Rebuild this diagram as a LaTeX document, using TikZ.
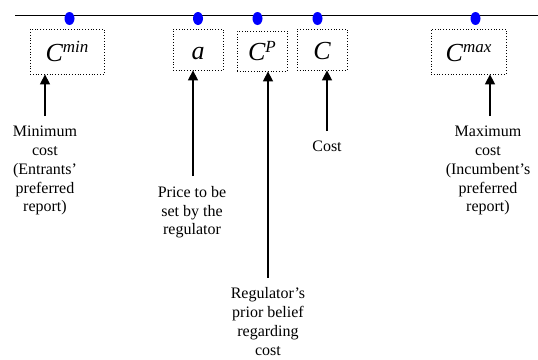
\documentclass[tikz,border=0pt]{standalone}
\usepackage{fontspec}
\setmainfont{Liberation Serif}
\usetikzlibrary{arrows.meta}
\newcommand\supx[1]{\raisebox{0.31em}{\fontsize{17}{17}\selectfont #1}}
\begin{document}
\begin{tikzpicture}[x=1pt,y=-1pt,
  box/.style={draw, dotted, line width=0.8pt, inner sep=0pt, text height=19pt, text depth=0pt,
    font=\fontsize{26}{26}\selectfont\itshape},
  lbl/.style={align=center, anchor=north, inner sep=0pt, font=\fontsize{16}{18.8}\selectfont},
  arr/.style={-{Triangle[width=10pt,length=10pt]}, line width=1.5pt, shorten <=10pt},
  dotc/.style={fill=blue}]
\useasboundingbox (0,0) rectangle (538,359);
\draw[line width=1pt] (15,15) -- (538,15);
\foreach \x in {69.5,198,257.5,317.5,475.5}
  \fill[dotc] (\x,18.5) ellipse [x radius=5, y radius=6.5];
\node[box, minimum width=74pt, minimum height=45pt] (cmin) at (67,51.5) {C\supx{min}};
\node[box, minimum width=50pt, minimum height=41pt] (pa) at (198,49.5) {a};
\node[box, minimum width=50pt, minimum height=40pt] (cp) at (262,51) {C\supx{P}};
\node[box, minimum width=50pt, minimum height=41pt] (cc) at (322,49.5) {C};
\node[box, minimum width=75pt, minimum height=45pt] (cmax) at (468.5,51.5) {C\supx{max}};
\node[lbl] (l1) at (45,126) {Minimum\\cost\\(Entrants’\\preferred\\report)};
\node[lbl] (l2) at (192,186) {Price to be\\set by the\\regulator};
\node[lbl] (l3) at (268,287.5) {Regulator’s\\prior belief\\regarding\\cost};
\node[lbl] (l4) at (327,141) {Cost};
\node[lbl] (l5) at (488,126) {Maximum\\cost\\(Incumbent’s\\preferred\\report)};
\draw[arr] (l1.north) -- (l1.north |- cmin.south);
\draw[arr] ([xshift=1pt]l2.north) -- ([xshift=1pt]l2.north |- pa.south);
\draw[arr] (l3.north) -- (l3.north |- cp.south);
\draw[arr] (l4.north) -- (l4.north |- cc.south);
\draw[arr] ([xshift=2pt]l5.north) -- ([xshift=2pt]l5.north |- cmax.south);
\end{tikzpicture}
\end{document}
